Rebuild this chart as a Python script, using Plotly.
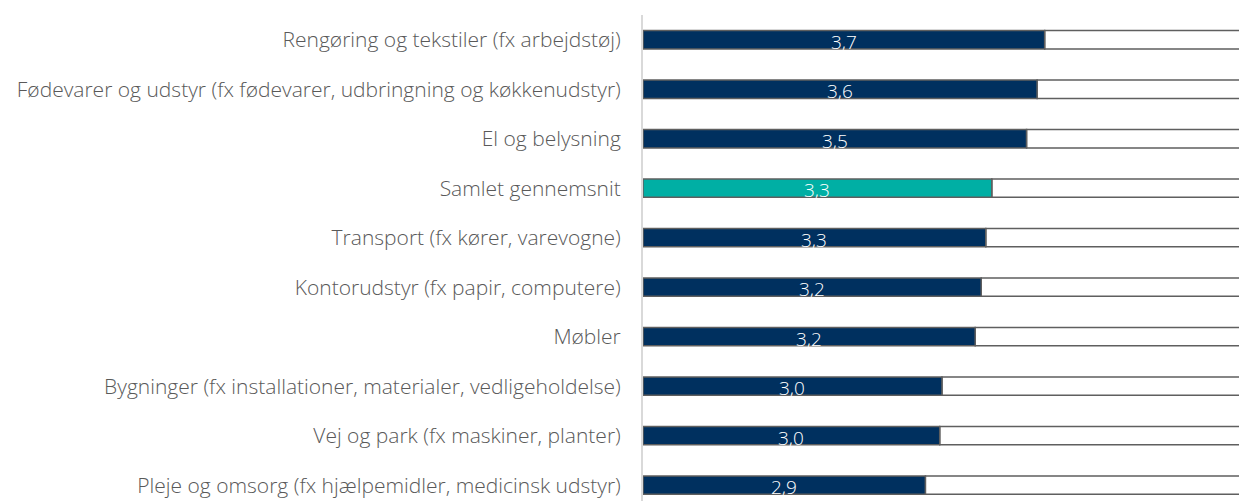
import plotly.graph_objects as go

categories = [
    "Rengøring og tekstiler (fx arbejdstøj)",
    "Fødevarer og udstyr (fx fødevarer, udbringning og køkkenudstyr)",
    "El og belysning",
    "Samlet gennemsnit",
    "Transport (fx kører, varevogne)",
    "Kontorudstyr (fx papir, computere)",
    "Møbler",
    "Bygninger (fx installationer, materialer, vedligeholdelse)",
    "Vej og park (fx maskiner, planter)",
    "Pleje og omsorg (fx hjælpemidler, medicinsk udstyr)",
]
values = [3.66, 3.61, 3.54, 3.31, 3.27, 3.24, 3.20, 2.98, 2.965, 2.87]
scale_min = 1
scale_max = 5

NAVY = "#00305F"
TEAL = "#00AFA4"
colors = [TEAL if c == "Samlet gennemsnit" else NAVY for c in categories]
labels = [f"{v:.1f}".replace(".", ",") for v in values]

fig = go.Figure()
fig.add_trace(go.Bar(
    y=categories, x=[scale_max - v for v in values], base=values,
    orientation="h", width=0.37,
    marker=dict(color="white", line=dict(color="#5f5f5f", width=1.5)),
    hoverinfo="skip", showlegend=False,
))
fig.add_trace(go.Bar(
    y=categories, x=[v - scale_min for v in values], base=[scale_min] * len(values),
    orientation="h", width=0.37,
    marker=dict(color=colors, line=dict(color="#5f5f5f", width=1.5)),
    showlegend=False,
))
for c, v, t in zip(categories, values, labels):
    fig.add_annotation(x=(scale_min + v) / 2, y=c, text=t, showarrow=False,
                       yshift=-2,
                       font=dict(family="Open Sans", size=19, color="white", weight=300))

n = len(categories)
fig.update_layout(
    width=1239, height=501,
    margin=dict(l=643, r=0, t=15, b=0, autoexpand=False),
    paper_bgcolor="white", plot_bgcolor="white",
    barmode="overlay",
    font=dict(family="Open Sans", size=21, color="#595959"),
    xaxis=dict(range=[scale_min, scale_min + 596 / 151], showgrid=False, zeroline=False,
               showticklabels=False, showline=False, fixedrange=True),
    yaxis=dict(categoryorder="array", categoryarray=categories,
               range=[n - 0.5 - 0.18, -0.5], showgrid=False, zeroline=False,
               showline=True, linecolor="#d9d9d9", linewidth=2,
               ticks="", ticklabelstandoff=16,
               tickfont=dict(family="Open Sans", size=21, color="#595959", weight=300)),
)
fig.write_html("out.html", config={"displayModeBar": False},
               post_script="document.body.style.margin='0px';document.body.style.overflow='hidden';")
